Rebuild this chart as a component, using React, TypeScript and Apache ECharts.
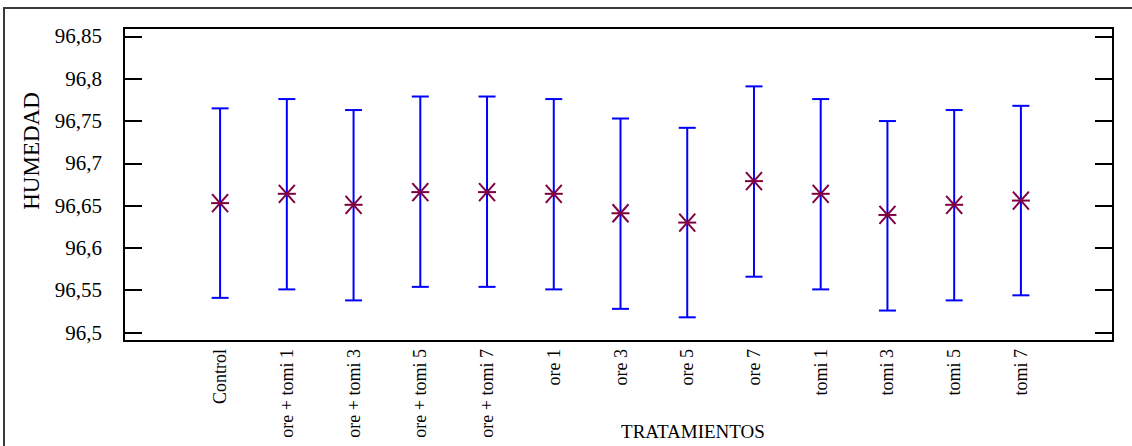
import React, { useEffect, useRef } from "react";
import * as echarts from "echarts";

const categories = [
  "Control",
  "ore + tomi 1",
  "ore + tomi 3",
  "ore + tomi 5",
  "ore + tomi 7",
  "ore 1",
  "ore 3",
  "ore 5",
  "ore 7",
  "tomi 1",
  "tomi 3",
  "tomi 5",
  "tomi 7",
];
const means = [96.653, 96.664, 96.651, 96.666, 96.666, 96.664, 96.641, 96.63, 96.679, 96.664, 96.639, 96.651, 96.656];
const lower = [96.541, 96.551, 96.538, 96.554, 96.554, 96.551, 96.528, 96.518, 96.566, 96.551, 96.526, 96.538, 96.544];
const upper = [96.765, 96.776, 96.763, 96.779, 96.779, 96.776, 96.753, 96.742, 96.791, 96.776, 96.75, 96.763, 96.768];
const yTicks = [96.5, 96.55, 96.6, 96.65, 96.7, 96.75, 96.8, 96.85];
const xTitle = "TRATAMIENTOS";
const yTitle = "HUMEDAD";

const FONT = "Liberation Serif";

export default function App() {
  const ref = useRef<HTMLDivElement>(null);
  useEffect(() => {
    if (!ref.current) return;
    const chart = echarts.init(ref.current, null, { renderer: "svg" });
    const idx = categories.map((_, i) => i);
    const fmtY = (v: number) => String(Math.round(v * 100) / 100).replace(".", ",");
    const data = categories.map((_, i) => [i, lower[i], means[i], upper[i]]);
    const xMin = -1.44;
    const xMax = 13.38;
    const yMin = 96.49;
    const yMax = 96.86;
    const line = { show: true, onZero: false, lineStyle: { color: "#000", width: 2 } };
    const ticks = { show: true, inside: true, length: 18, customValues: yTicks, lineStyle: { color: "#000", width: 2 } };
    chart.setOption({
      animation: false,
      backgroundColor: "#ffffff",
      textStyle: { fontFamily: FONT },
      grid: { left: 124, top: 28, right: 19, bottom: 105, containLabel: false, outerBoundsMode: "none" },
      xAxis: [
        { type: "value", min: xMin, max: xMax, position: "bottom", axisLine: line, axisTick: { show: false }, axisLabel: { show: false }, splitLine: { show: false } },
        { type: "value", min: xMin, max: xMax, position: "top", axisLine: line, axisTick: { show: false }, axisLabel: { show: false }, splitLine: { show: false } },
      ],
      yAxis: [
        { type: "value", min: yMin, max: yMax, position: "left", axisLine: line, axisTick: ticks, axisLabel: { show: false }, splitLine: { show: false } },
        { type: "value", min: yMin, max: yMax, position: "right", axisLine: line, axisTick: ticks, axisLabel: { show: false }, splitLine: { show: false } },
      ],
      graphic: [
        {
          type: "rect",
          shape: { x: 4, y: 8, width: 1200, height: 500 },
          style: { fill: "none", stroke: "#3a3a3a", lineWidth: 2 },
          silent: true,
        },
        {
          type: "text",
          x: 31,
          y: 151,
          rotation: Math.PI / 2,
          style: { text: yTitle, fontSize: 23, fontFamily: FONT, fill: "#000", textAlign: "center", textVerticalAlign: "middle" },
        },
        {
          type: "text",
          x: 693,
          y: 431,
          style: { text: xTitle, fontSize: 19, fontFamily: FONT, fill: "#000", textAlign: "center", textVerticalAlign: "middle" },
        },
      ],
      series: [
        {
          type: "custom",
          name: "errorbars",
          xAxisIndex: 0,
          yAxisIndex: 0,
          data,
          encode: { x: 0, y: [1, 2, 3] },
          renderItem: (params: any, api: any) => {
            const x = api.value(0);
            const lo = api.coord([x, api.value(1)]);
            const mid = api.coord([x, api.value(2)]);
            const hi = api.coord([x, api.value(3)]);
            const cap = 8.5;
            const blue = { stroke: "#0000ff", lineWidth: 2 };
            const mar = { stroke: "#7f0040", lineWidth: 2 };
            const rx = 9;
            const ry = 9;
            return {
              type: "group",
              children: [
                { type: "line", shape: { x1: hi[0], y1: hi[1], x2: lo[0], y2: lo[1] }, style: blue },
                { type: "line", shape: { x1: hi[0] - cap, y1: hi[1], x2: hi[0] + cap, y2: hi[1] }, style: blue },
                { type: "line", shape: { x1: lo[0] - cap, y1: lo[1], x2: lo[0] + cap, y2: lo[1] }, style: blue },
                { type: "line", shape: { x1: mid[0] - rx, y1: mid[1], x2: mid[0] + rx, y2: mid[1] }, style: mar },
                { type: "line", shape: { x1: mid[0] - rx + 1, y1: mid[1] - ry, x2: mid[0] + rx - 1, y2: mid[1] + ry }, style: mar },
                { type: "line", shape: { x1: mid[0] - rx + 1, y1: mid[1] + ry, x2: mid[0] + rx - 1, y2: mid[1] - ry }, style: mar },
              ],
            };
          },
        },
        {
          type: "custom",
          name: "xlabels",
          xAxisIndex: 0,
          yAxisIndex: 0,
          clip: false,
          silent: true,
          data: idx.map((i) => [i, yMin]),
          encode: { x: 0, y: 1 },
          renderItem: (params: any, api: any) => {
            const i = api.value(0);
            const p = api.coord([i, yMin]);
            return {
              type: "text",
              x: p[0],
              y: p[1] + 8,
              rotation: Math.PI / 2,
              style: {
                text: categories[Math.round(i)],
                fontSize: 18,
                fontFamily: FONT,
                fill: "#000",
                align: "right",
                verticalAlign: "middle",
              },
            };
          },
        },
        {
          type: "custom",
          name: "ylabels",
          xAxisIndex: 0,
          yAxisIndex: 0,
          clip: false,
          silent: true,
          data: yTicks.map((v) => [xMin, v]),
          encode: { x: 0, y: 1 },
          renderItem: (params: any, api: any) => {
            const v = api.value(1);
            const p = api.coord([xMin, v]);
            return {
              type: "text",
              x: p[0] - 22,
              y: p[1],
              style: {
                text: fmtY(v),
                fontSize: 21,
                fontFamily: FONT,
                fill: "#000",
                align: "right",
                verticalAlign: "middle",
              },
            };
          },
        },
      ],
    });
    return () => chart.dispose();
  }, []);
  return (
    <div
      ref={ref}
      style={{ position: "fixed", left: 0, top: 0, width: 1132, height: 446, background: "#fff" }}
    />
  );
}
